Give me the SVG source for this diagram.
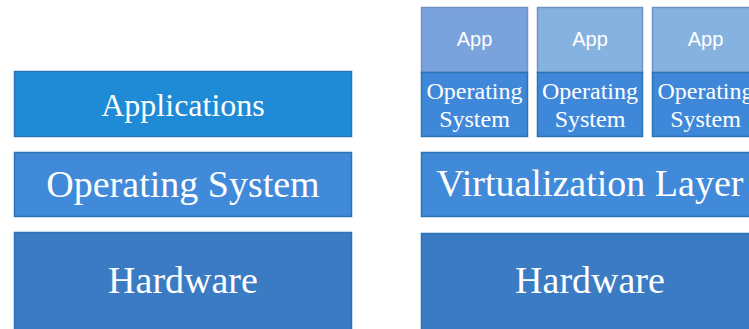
<svg xmlns="http://www.w3.org/2000/svg" width="749" height="329" viewBox="0 0 749 329">
  <style>
    .layer { stroke: #2b73b5; stroke-width: 1.5; }
    .app { stroke: #6f92c2; stroke-width: 1.5; }
    .serif { font-family: "Liberation Serif", "Times New Roman", serif; fill: #ffffff; text-anchor: middle; }
    .sans { font-family: "Liberation Sans", Arial, sans-serif; fill: #ffffff; text-anchor: middle; }
    .big { font-size: 38px; }
    .mid { font-size: 32px; }
    .small { font-size: 24px; }
    .appt { font-size: 20px; }
  </style>
  <rect width="749" height="329" fill="#ffffff"/>

  <!-- Traditional stack -->
  <g id="applications">
    <rect class="layer" x="14.5" y="71.5" width="337" height="65" fill="#1f8bd6"/>
    <text class="serif mid" x="183" y="116">Applications</text>
  </g>
  <g id="operating-system">
    <rect class="layer" x="14.5" y="152.5" width="337" height="64" fill="#418ad9"/>
    <text class="serif big" x="183" y="197">Operating System</text>
  </g>
  <g id="hardware-left">
    <rect class="layer" x="14.5" y="232.5" width="337" height="100" fill="#3b7bc4"/>
    <text class="serif big" x="183" y="293">Hardware</text>
  </g>

  <!-- Virtualized stack: three guest VMs on a shared layer -->
  <g id="vm-1">
    <rect class="app" x="421.5" y="7.5" width="106" height="65" fill="#7aa3dd"/>
    <text class="sans appt" x="474.5" y="46">App</text>
    <rect class="layer" x="421.5" y="72.5" width="106" height="64" fill="#3f88d9"/>
    <text class="serif small" x="474.5" y="99">Operating</text>
    <text class="serif small" x="474.5" y="127">System</text>
  </g>
  <g id="vm-2">
    <rect class="app" x="537.5" y="7.5" width="105" height="65" fill="#86b2e0"/>
    <text class="sans appt" x="590" y="46">App</text>
    <rect class="layer" x="537.5" y="72.5" width="105" height="64" fill="#3f88d9"/>
    <text class="serif small" x="590" y="99">Operating</text>
    <text class="serif small" x="590" y="127">System</text>
  </g>
  <g id="vm-3">
    <rect class="app" x="652.5" y="7.5" width="106" height="65" fill="#86b2e0"/>
    <text class="sans appt" x="705.5" y="46">App</text>
    <rect class="layer" x="652.5" y="72.5" width="106" height="64" fill="#3f88d9"/>
    <text class="serif small" x="705.5" y="99">Operating</text>
    <text class="serif small" x="705.5" y="127">System</text>
  </g>
  <g id="virtualization-layer">
    <rect class="layer" x="421.5" y="152.5" width="337" height="64" fill="#418ad9"/>
    <text class="serif big" x="590" y="196">Virtualization Layer</text>
  </g>
  <g id="hardware-right">
    <rect class="layer" x="421.5" y="233.5" width="337" height="100" fill="#3b7bc4"/>
    <text class="serif big" x="590" y="293">Hardware</text>
  </g>

  <g id="connectors"/>
</svg>
